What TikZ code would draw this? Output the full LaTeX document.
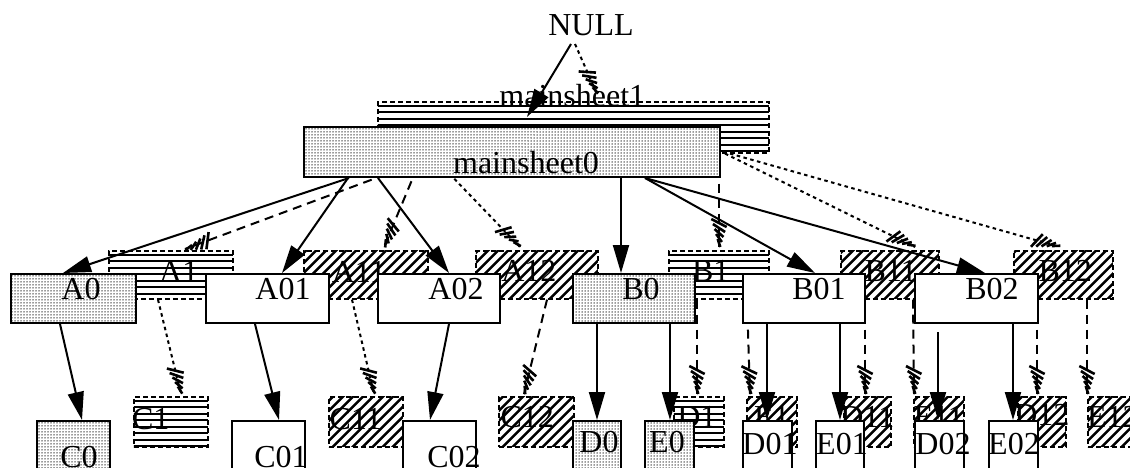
\documentclass[tikz,border=0pt]{standalone}
\usepackage{fontspec}
\setmainfont{Liberation Serif}
\usetikzlibrary{arrows.meta,patterns.meta,decorations.markings,calc}

\begin{document}
\begin{tikzpicture}[
        x=1pt, y=-1pt,
        tag/.style={
            font=\fontsize{32}{36}\selectfont,
            inner sep=0pt
        },
        dims/.style 2 args={
            minimum width=#1pt,
            minimum height=#2pt
        },
        sheet/.style={
            draw,
            line width=2pt,
            fill=white,
            anchor=north west,
            inner sep=0pt
        },
        graysheet/.style={
            sheet,
            preaction={fill=white},
            pattern={Dots[distance=3pt,radius=.75pt]},
            pattern color=black!80
        },
        ghost/.style={
            draw,
            line width=1.6pt,
            dash pattern=on 5pt off 3pt,
            anchor=north west,
            inner sep=0pt
        },
        ghosth/.style={
            ghost,
            path picture={
                \foreach \k in {0,...,7}
                    \draw[solid, line width=2pt]
                        ($(path picture bounding box.north west)+(-5,4+\k*6.5)$) -- ++(420,0);
            }
        },
        ghostd/.style={
            ghost,
            path picture={
                \foreach \k in {-6,...,13}
                    \draw[solid, line width=2.4pt]
                        ($(path picture bounding box.south west)+(\k*10,4)$) -- ++(80,-80);
            }
        },
        link/.style={
            line width=2pt,
            -{Triangle[length=28pt,width=16pt]}
        },
        ghostlink/.style={
            line width=2pt,
            postaction={decorate, decoration={markings,
                mark=at position 1 with {
                    \foreach \t in {4,9,14,19,24}
                        \draw[solid, line width=2.6pt]
                            ({-\t pt-4pt},{-0.32*\t pt}) -- ({-\t pt+4pt},{0.32*\t pt});}}}
        },
        longdash/.style={ghostlink, dash pattern=on 9pt off 6pt},
        shortdash/.style={ghostlink, dash pattern=on 3.5pt off 3.5pt}
    ]

        \useasboundingbox (0,0) rectangle (1130,468);
        \clip (0,0) rectangle (1130,468);

        \node[tag] (NULL) at (591,25) {NULL};

        % shadow sheets
        \node[ghosth, dims={391}{51}, label={[tag,xshift=-1pt,yshift=32pt]center:mainsheet1}] (ms1) at (377,101) {};

        \node[ghosth, dims={124}{48}, label={[tag,xshift=8pt,yshift=3pt]center:A1}] (A1) at (108,250) {};
        \node[ghostd, dims={124}{48}, label={[tag,xshift=-7pt,yshift=3pt]center:A11}] (A11) at (303,250) {};
        \node[ghostd, dims={122}{48}, label={[tag,xshift=-8pt,yshift=4pt]center:A12}] (A12) at (475,250) {};
        \node[ghosth, dims={100}{48}, label={[tag,xshift=-8pt,yshift=4pt]center:B1}] (B1) at (668,250) {};
        \node[ghostd, dims={98}{48}, label={[tag,xshift=1pt,yshift=4pt]center:B11}] (B11) at (840,250) {};
        \node[ghostd, dims={99}{48}, label={[tag,xshift=2pt,yshift=4pt]center:B12}] (B12) at (1013,250) {};

        \node[ghosth, dims={74}{50}, label={[tag,xshift=-20pt,yshift=3pt]center:C1}] (C1) at (133,396) {};
        \node[ghostd, dims={74}{50}, label={[tag,xshift=-10pt,yshift=3pt]center:C11}] (C11) at (328,396) {};
        \node[ghostd, dims={75}{50}, label={[tag,xshift=-9pt,yshift=5pt]center:C12}] (C12) at (498,396) {};
        \node[ghosth, dims={50}{50}, label={[tag,xshift=-2pt,yshift=5pt]center:D1}] (D1) at (673,396) {};
        \node[ghostd, dims={50}{50}, label={[tag,yshift=5pt]center:E1}] (E1) at (746,396) {};
        \node[ghostd, dims={47}{50}, label={[tag,yshift=5pt]center:D11}] (D11) at (843,396) {};
        \node[ghostd, dims={50}{50}, label={[tag,yshift=5pt]center:E11}] (E11) at (913,396) {};
        \node[ghostd, dims={48}{50}, label={[tag,yshift=7pt]center:D12}] (D12) at (1017,396) {};
        \node[ghostd, dims={50}{50}, label={[tag,yshift=5pt]center:E12}] (E12) at (1087,396) {};

        % shadow links
        \draw[shortdash] ($(NULL)+(-16,19)$) -- ($(ms1.north west)+(220,-7)$);
        \draw[longdash] ($(ms1.south west)+(65,0)$) -- ($(A1.north west)+(77,-1)$);
        \draw[longdash] ($(ms1.south west)+(46,0)$) -- ($(A11.north west)+(81,-3)$);
        \draw[shortdash] ($(ms1.south west)+(53,0)$) -- ($(A12.north west)+(45,-3)$);
        \draw[longdash] ($(ms1.south west)+(342,0)$) -- ($(B1.north west)+(51,-3)$);
        \draw[shortdash] ($(ms1.south west)+(348,0)$) -- ($(B11.north west)+(75,-3)$);
        \draw[shortdash] ($(ms1.south west)+(353,0)$) -- ($(B12.north west)+(47,-3)$);

        \draw[shortdash] ($(A1.south west)+(50,0)$) -- ($(C1.north west)+(48,-2)$);
        \draw[shortdash] ($(A11.south west)+(49,0)$) -- ($(C11.north west)+(46,-2)$);
        \draw[longdash] ($(A12.south west)+(72,0)$) -- ($(C12.north west)+(26,-2)$);
        \draw[longdash] ($(B1.south west)+(29,0)$) -- ($(D1.north west)+(24,-2)$);
        \draw[longdash] ($(B1.south west)+(79,0)$) -- ($(E1.north west)+(4,-2)$);
        \draw[longdash] ($(B11.south west)+(25,0)$) -- ($(D11.north west)+(22,-2)$);
        \draw[longdash] ($(B11.south west)+(73,0)$) -- ($(E11.north west)+(1,-2)$);
        \draw[longdash] ($(B12.south west)+(24,0)$) -- ($(D12.north west)+(20,-2)$);
        \draw[longdash] ($(B12.south west)+(74,0)$) -- ($(E12.north west)+(0,-2)$);

        % sheets
        \node[graysheet, dims={416}{50}, label={[tag,xshift=14pt,yshift=-11pt]center:mainsheet0}] (ms0) at (303,126) {};

        \node[graysheet, dims={125}{49}, label={[tag,xshift=7.5pt,yshift=9.5pt]center:A0}] (A0) at (10,273) {};
        \node[sheet, dims={123}{49}, label={[tag,xshift=15.5pt,yshift=9.5pt]center:A01}] (A01) at (205,273) {};
        \node[sheet, dims={122}{49}, label={[tag,xshift=17pt,yshift=9.5pt]center:A02}] (A02) at (377,273) {};
        \node[graysheet, dims={122}{49}, label={[tag,xshift=7pt,yshift=9.5pt]center:B0}] (B0) at (572,273) {};
        \node[sheet, dims={122}{49}, label={[tag,xshift=15pt,yshift=9.5pt]center:B01}] (B01) at (742,273) {};
        \node[sheet, dims={123}{49}, label={[tag,xshift=15.5pt,yshift=9.5pt]center:B02}] (B02) at (914,273) {};

        \node[graysheet, dims={73}{60}, label={[tag,xshift=5.5pt,yshift=-6pt]center:C0}] (C0) at (36,420) {};
        \node[sheet, dims={73}{60}, label={[tag,xshift=12.5pt,yshift=-6pt]center:C01}] (C01) at (231,420) {};
        \node[sheet, dims={73}{60}, label={[tag,xshift=14.5pt,yshift=-6pt]center:C02}] (C02) at (402,420) {};
        \node[graysheet, dims={48}{60}, label={[tag,xshift=2pt,yshift=9pt]center:D0}] (D0) at (572,420) {};
        \node[graysheet, dims={49}{60}, label={[tag,xshift=-2.5pt,yshift=9pt]center:E0}] (E0) at (644,420) {};
        \node[sheet, dims={49}{60}, label={[tag,xshift=2.5pt,yshift=7pt]center:D01}] (D01) at (742,420) {};
        \node[sheet, dims={48}{60}, label={[tag,xshift=2pt,yshift=7pt]center:E01}] (E01) at (815,420) {};
        \node[sheet, dims={49}{60}, label={[tag,xshift=3.5pt,yshift=7pt]center:D02}] (D02) at (914,420) {};
        \node[sheet, dims={49}{60}, label={[tag,xshift=0.5pt,yshift=7pt]center:E02}] (E02) at (988,420) {};

        % links
        \draw[link] ($(NULL)+(-20,19)$) -- ($(ms1.north west)+(150,16)$);
        \draw[link] ($(ms0.south west)+(46,0)$) -- ($(A0.north west)+(53,0)$);
        \draw[link] ($(ms0.south west)+(45,0)$) -- ($(A01.north west)+(77,0)$);
        \draw[link] ($(ms0.south west)+(75,0)$) -- ($(A02.north west)+(72,0)$);
        \draw[link] ($(ms0.south west)+(318,0)$) -- ($(B0.north west)+(49,0)$);
        \draw[link] ($(ms0.south west)+(342,0)$) -- ($(B01.north west)+(73,0)$);
        \draw[link] ($(ms0.south west)+(342,0)$) -- ($(B02.north west)+(71,0)$);

        \draw[link] ($(A0.south west)+(50,0)$) -- ($(C0.north west)+(46,0)$);
        \draw[link] ($(A01.south west)+(50,0)$) -- ($(C01.north west)+(48,0)$);
        \draw[link] ($(A02.south west)+(72,0)$) -- ($(C02.north west)+(28,0)$);
        \draw[link] ($(B0.south west)+(25,0)$) -- ($(D0.north west)+(25,0)$);
        \draw[link] ($(B0.south west)+(98,0)$) -- ($(E0.north west)+(26,0)$);
        \draw[link] ($(B01.south west)+(25,0)$) -- ($(D01.north west)+(25,0)$);
        \draw[link] ($(B01.south west)+(98,0)$) -- ($(E01.north west)+(25,0)$);
        \draw[link] ($(B02.south west)+(24,8)$) -- ($(D02.north west)+(24,0)$);
        \draw[link] ($(B02.south west)+(99,0)$) -- ($(E02.north west)+(25,0)$);

    \end{tikzpicture}
\end{document}
